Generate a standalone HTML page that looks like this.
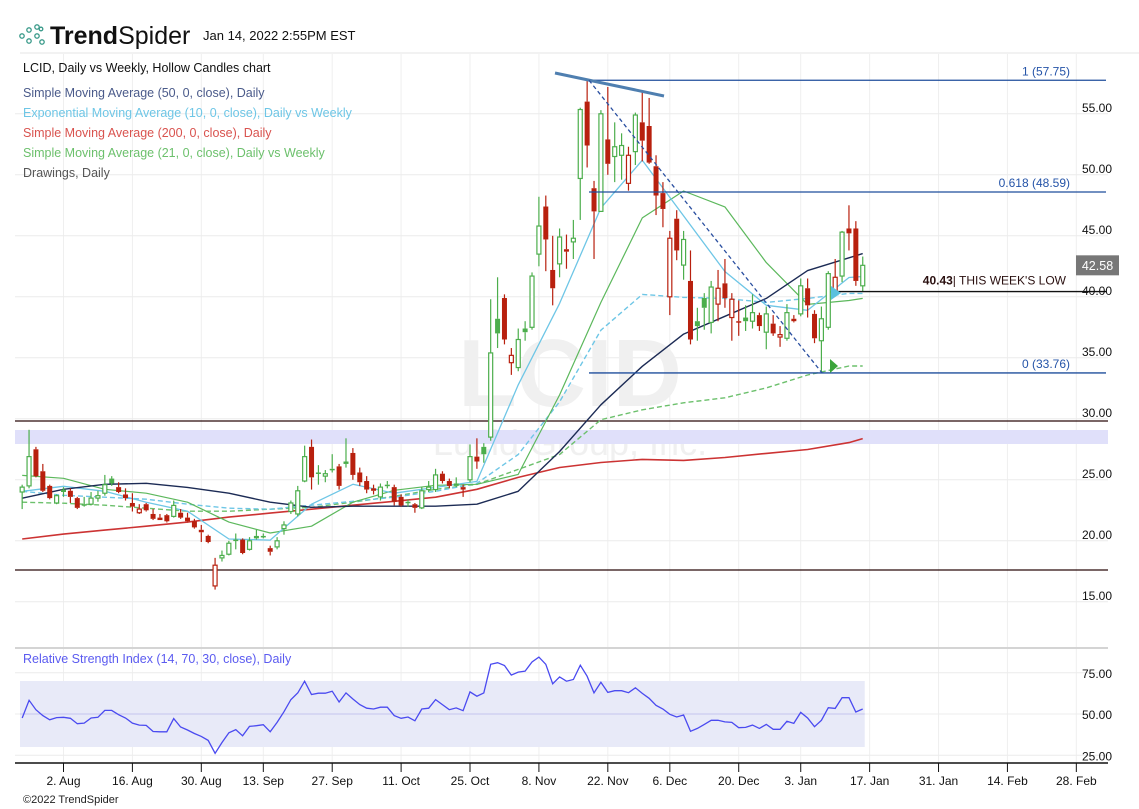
<!DOCTYPE html>
<html><head><meta charset="utf-8"><style>
html,body{margin:0;padding:0;background:#fff;}
svg{display:block;font-family:"Liberation Sans",sans-serif;}
</style></head><body>
<svg id="chart" width="1139" height="809" viewBox="0 0 1139 809" xmlns="http://www.w3.org/2000/svg">
<g>
  <g fill="none" stroke="#3a9a8a" stroke-width="1.3">
    <circle cx="22" cy="36" r="2.2"/><circle cx="29" cy="30" r="2.2"/><circle cx="29" cy="41" r="2.2"/><circle cx="37" cy="27" r="2.2"/><circle cx="37" cy="36" r="2.2"/><circle cx="42" cy="42" r="2.2"/><circle cx="41" cy="29" r="1.8"/>
  </g>
  <text x="50" y="44" font-size="25" fill="#111"><tspan font-weight="bold">Trend</tspan><tspan font-weight="normal">Spider</tspan></text>
  <text x="203" y="40" font-size="13" fill="#111">Jan 14, 2022 2:55PM EST</text>
  <line x1="20" y1="53" x2="1139" y2="53" stroke="#e6e6e6"/>
</g>
<g id="grid"></g>
<g>
  <text x="570" y="406" text-anchor="middle" font-size="96" font-weight="bold" fill="#f0f0f0">LCID</text>
  <text x="570" y="455" text-anchor="middle" font-size="36" fill="#f0f0f0">Lucid Group, Inc.</text>
</g>
<rect x="15" y="430" width="1093" height="14" fill="#e0e0fa"/>
<line x1="15" y1="421" x2="1108" y2="421" stroke="#2a0a0a" stroke-width="1.3"/>
<line x1="15" y1="570" x2="1108" y2="570" stroke="#2a0a0a" stroke-width="1.3"/>
<g id="mas"></g>
<g id="candles"></g>
<g id="drawings"></g>
<g id="rsi"></g>
<g id="axes"></g>
<g font-size="12.5">
  <text x="23" y="72" fill="#111">LCID, Daily vs Weekly, Hollow Candles chart</text>
  <text x="23" y="97" fill="#4a5a8a">Simple Moving Average (50, 0, close), Daily</text>
  <text x="23" y="117" fill="#6ec6e6">Exponential Moving Average (10, 0, close), Daily vs Weekly</text>
  <text x="23" y="137" fill="#d9534f">Simple Moving Average (200, 0, close), Daily</text>
  <text x="23" y="157" fill="#6cc06c">Simple Moving Average (21, 0, close), Daily vs Weekly</text>
  <text x="23" y="177" fill="#555">Drawings, Daily</text>
</g>
<text x="23" y="803" font-size="11" fill="#222">©2022 TrendSpider</text>
</svg>
<script>
const opens=[24.0,24.5,27.5,25.7,24.5,23.1,24.2,24.1,23.5,23.0,23.0,23.5,23.9,25.1,24.4,23.8,23.1,22.3,23.0,22.2,21.9,22.1,22.0,22.3,21.9,21.6,20.9,20.4,16.3,18.6,18.9,20.1,20.1,19.3,20.4,20.4,19.4,19.5,21.0,22.4,22.2,24.9,27.7,25.6,25.3,25.9,26.1,26.5,27.2,25.6,24.9,24.3,23.6,24.6,24.4,23.6,23.2,23.0,22.7,24.2,24.2,25.5,24.9,24.7,24.4,25.0,26.9,27.7,28.5,38.2,39.9,34.6,34.2,37.4,37.5,43.5,47.4,42.2,42.7,43.9,44.5,49.7,56.0,48.9,47.0,52.9,51.5,51.6,49.3,51.9,54.3,54.0,50.7,48.5,40.0,46.4,42.6,41.3,38.0,39.9,37.9,39.4,41.1,38.3,38.0,38.3,38.0,38.5,37.1,37.8,36.7,36.6,38.2,38.6,40.7,38.6,36.4,37.5,40.5,41.7,45.6,45.6,40.9];
const highs=[24.6,29.1,27.7,26.3,24.6,23.8,24.4,24.3,23.6,23.6,24.0,24.1,25.4,25.3,24.8,24.3,23.9,23.0,23.1,22.6,22.2,22.2,23.3,22.6,22.3,21.8,21.3,20.5,18.6,19.2,20.0,20.6,20.2,20.3,20.9,20.6,19.6,20.3,21.6,23.3,24.5,27.8,28.3,26.2,25.8,27.1,26.3,28.4,27.6,26.0,25.3,24.6,24.7,24.9,24.6,23.8,23.4,23.1,24.4,24.9,25.9,25.7,25.1,25.2,24.6,27.9,28.4,28.0,39.8,41.6,40.2,35.8,37.4,38.0,42.0,48.2,48.3,45.0,45.6,45.1,46.3,55.5,57.75,49.5,55.3,57.2,54.3,53.4,52.3,55.1,56.8,56.3,51.6,49.4,45.4,47.1,45.4,43.8,39.1,40.3,41.3,42.2,43.1,40.3,39.7,39.3,40.2,38.7,39.2,38.5,37.6,39.4,38.5,41.5,41.5,38.9,39.2,42.1,43.1,45.4,47.5,46.2,43.3];
const lows=[22.6,24.3,25.2,24.0,23.4,23.0,23.6,23.1,22.6,22.8,22.9,23.2,23.7,24.5,23.9,23.3,22.4,22.2,22.4,21.7,21.7,21.5,21.9,21.8,21.5,21.0,19.9,19.8,16.0,18.3,18.8,19.3,18.9,19.2,20.1,20.2,18.8,19.3,20.5,22.2,22.0,24.8,24.2,24.6,24.8,25.6,24.2,26.0,25.0,24.5,23.9,23.8,23.3,24.3,22.9,22.8,22.8,22.3,22.6,24.0,24.0,24.7,24.3,24.4,23.6,24.8,25.9,26.4,28.2,35.8,36.1,33.6,33.9,36.4,37.3,42.5,42.1,39.3,41.6,42.3,43.1,46.3,50.6,43.1,47.0,50.0,49.4,49.6,48.7,50.8,51.1,50.9,46.7,45.7,38.5,43.0,41.4,36.1,36.4,37.3,37.0,38.0,39.1,36.4,36.8,37.2,37.4,37.2,35.7,36.8,35.9,36.4,37.9,38.4,38.3,36.2,33.76,37.3,40.4,41.2,43.8,40.9,40.43];
const closes=[24.4,26.9,25.3,24.1,23.5,23.7,24.0,23.6,22.7,22.9,23.5,23.7,24.6,24.7,24.0,23.5,22.8,22.6,22.5,21.8,21.7,21.6,22.9,21.9,21.6,21.1,20.7,19.9,18.0,18.8,19.8,20.0,19.0,20.0,20.2,20.3,19.1,20.0,21.3,23.1,24.1,26.9,25.2,25.5,25.5,25.8,24.5,26.3,25.4,24.8,24.2,24.1,24.4,24.5,23.2,22.9,23.1,22.7,24.1,24.4,25.4,24.9,24.5,24.5,24.2,26.9,26.5,27.1,35.4,37.0,36.5,35.2,36.5,37.1,41.7,45.8,44.7,40.7,44.9,43.7,44.8,55.35,52.4,47.0,55.0,50.9,52.3,52.4,51.6,54.9,52.8,51.0,48.3,47.2,44.8,43.8,44.7,36.5,37.6,39.1,40.8,40.7,39.9,39.8,37.9,38.0,38.7,37.6,38.6,37.0,36.9,38.7,38.0,40.9,39.3,36.6,38.2,41.9,41.6,45.3,45.2,41.3,42.58];
// moving averages sampled at candle indices
const maIdx=[0,6,12,18,24,30,36,42,48,54,60,66,72,78,84,90,96,102,108,114,120,122];
const sma50=[23.49,24.22,24.63,24.71,24.38,23.9,23.16,22.75,22.84,22.84,22.84,23.0,24.06,27.32,31.15,34.3,36.94,38.4,39.87,42.15,43.2,43.54];
const ema10=[24.06,24.47,24.06,23.16,22.43,20.15,20.06,23.0,24.63,23.9,24.38,24.87,32.78,39.46,47.29,51.2,46.63,42.07,39.3,38.89,41.58,41.66];
const sma21=[25.36,25.12,24.22,23.9,23.16,21.53,20.64,21.2,23.16,24.14,24.55,24.63,25.44,31.96,39.54,46.47,48.67,47.37,42.8,39.38,39.7,39.87];
const sma200=[20.15,20.55,20.88,21.2,21.53,21.94,22.27,22.59,22.92,23.24,23.57,24.22,25.2,26.01,26.42,26.67,26.59,26.83,27.16,27.48,28.05,28.38];
const sma21w=[23.16,23.08,22.92,22.67,22.43,22.43,22.59,22.75,23.16,23.65,24.22,24.63,25.85,27.07,29.93,30.74,31.31,31.72,32.53,33.59,34.33,34.33];
const ema10w=[24.06,23.73,23.57,23.41,23.0,22.67,22.59,22.92,23.24,23.57,24.06,24.71,27.07,31.39,37.26,40.2,39.95,39.87,39.54,39.87,40.28,40.28];
const rsiVals=[47.6,58.3,52.6,49.0,46.5,47.8,48.0,47.4,44.1,44.5,47.6,48.0,52.2,52.2,49.6,47.6,44.5,43.3,43.1,39.4,39.2,39.2,47.2,42.1,40.3,38.2,36.4,34.0,26.2,32.7,38.6,40.5,36.8,42.5,42.9,43.5,39.2,44.9,51.4,58.7,62.8,69.9,61.8,62.6,62.6,63.8,57.3,62.8,59.1,55.7,53.5,53.0,54.1,54.1,49.0,47.4,48.2,45.9,53.0,53.5,58.7,55.7,52.6,53.7,52.0,63.4,60.8,62.8,80.1,81.1,79.4,73.6,75.4,76.0,81.5,84.5,80.1,68.3,72.5,69.9,70.9,79.6,72.9,62.8,69.2,63.1,64.1,64.1,62.9,65.9,62.5,59.5,55.3,53.0,49.8,48.2,49.4,39.5,41.3,43.7,46.2,46.2,45.2,44.9,41.7,41.9,43.3,41.3,43.7,40.7,40.7,45.6,44.3,51.0,47.6,42.3,46.2,53.8,53.4,59.9,59.9,51.2,53.0];
const priceTicks=[15,20,25,30,35,40,45,50,55];
const rsiTicks=[25,50,75];
const dateLabels=["2. Aug","16. Aug","30. Aug","13. Sep","27. Sep","11. Oct","25. Oct","8. Nov","22. Nov","6. Dec","20. Dec","3. Jan","17. Jan","31. Jan","14. Feb","28. Feb"];
const dateIdx=[0,10,20,29,39,49,59,69,79,88,98,107,117,127,137,147];
const firstIdx=-6;
const fibLevels=[57.75,48.59,33.76];
const fibNames=["1","0.618","0"];
const weekLow=40.43, lastPrice=42.58;

const NS="http://www.w3.org/2000/svg";
const xT=t=>63.5+t*6.89;
const xC=i=>xT(i+firstIdx);
const yP=p=>113.8+(55-p)*12.2;
const yR=v=>714-(v-50)*1.65;
function mk(tag,attrs,parent){const e=document.createElementNS(NS,tag);for(const k in attrs)e.setAttribute(k,attrs[k]);parent.appendChild(e);return e;}
const grid=document.getElementById('grid'),axes=document.getElementById('axes');
dateIdx.forEach((t,k)=>{
  const x=xT(t);
  const gl=mk('line',{x1:x,y1:54,x2:x,y2:763,stroke:'#efefef'},grid);
  
  
  const tk=mk('line',{x1:x,y1:763,x2:x,y2:772,stroke:'#111'},axes);
  
  
  const tl=mk('text',{x:x,y:785,'font-size':12,'text-anchor':'middle',fill:'#111'},axes);
  tl.textContent=dateLabels[k];
  
  
});
priceTicks.forEach(p=>{
  const y=yP(p);
  const gl=mk('line',{x1:15,y1:y,x2:1108,y2:y,stroke:'#ececec'},grid);
  
  
  const tl=mk('text',{x:1082,y:y-2,'font-size':12,fill:'#111'},axes);
  tl.textContent=p.toFixed(2);
  
  
});
const sep=mk('line',{x1:15,y1:648,x2:1108,y2:648,stroke:'#d4d4d4','stroke-width':2},axes);


const xl=mk('line',{x1:15,y1:763,x2:1108,y2:763,stroke:'#111','stroke-width':1.5},axes);


const mas=document.getElementById('mas');
function maLine(vals,color,w,dash,name){
  const d=vals.map((v,k)=>(k?'L':'M')+xC(maIdx[k]).toFixed(1)+' '+yP(v).toFixed(1)).join(' ');
  const p=mk('path',{d:d,fill:'none',stroke:color,'stroke-width':w,'stroke-linejoin':'round'},mas);
  if(dash)p.setAttribute('stroke-dasharray',dash);
  
  
}
maLine(sma200,'#cc3333',1.6,null,'sma200-line');
maLine(sma21w,'#6cc06c',1.4,'5 3','sma21-weekly-line');
maLine(ema10w,'#6ec6e6',1.4,'5 3','ema10-weekly-line');
maLine(sma21,'#5cb85c',1.2,null,'sma21-line');
maLine(ema10,'#6ec6e6',1.3,null,'ema10-line');
maLine(sma50,'#1c2b55',1.4,null,'sma50-line');
const cg=document.getElementById('candles');
closes.forEach((c,i)=>{
  const o=opens[i],x=xC(i);
  const prev=i?closes[i-1]:o;
  const col=c>=prev?'#4cae4c':'#b8200e';
  const hollow=c>o;
  const g=mk('g',{},cg);
  
  
  const top=yP(Math.max(o,c)),bot=yP(Math.min(o,c));
  mk('line',{x1:x,y1:yP(highs[i]),x2:x,y2:top,stroke:col,'stroke-width':1.2},g);
  mk('line',{x1:x,y1:bot,x2:x,y2:yP(lows[i]),stroke:col,'stroke-width':1.2},g);
  if(hollow) mk('rect',{x:x-2,y:top,width:4,height:Math.max(bot-top,1),fill:'#fff',stroke:col,'stroke-width':1.2},g);
  else mk('rect',{x:x-2.5,y:top,width:5,height:Math.max(bot-top,1.5),fill:col},g);
});
const dg=document.getElementById('drawings');
fibLevels.forEach((f,k)=>{
  const y=yP(f);
  const l=mk('line',{x1:589,y1:y,x2:1106,y2:y,stroke:'#1f4e9c','stroke-width':1.3},dg);
  
  
  const t=mk('text',{x:1070,y:y-5,'font-size':12,'text-anchor':'end',fill:'#2554a8'},dg);
  t.textContent=fibNames[k]+' ('+f.toFixed(2)+')';
  
  
});
const tl1=mk('line',{x1:555,y1:73,x2:664,y2:96,stroke:'#4f7fb0','stroke-width':3},dg);


const tl2=mk('line',{x1:589,y1:yP(57.75),x2:822,y2:yP(33.76),stroke:'#2a4fa0','stroke-width':1.3,'stroke-dasharray':'4 3'},dg);


const wl=mk('line',{x1:833,y1:yP(weekLow),x2:1106,y2:yP(weekLow),stroke:'#111','stroke-width':1.3},dg);


const wt=mk('text',{x:1066,y:yP(weekLow)-7,'font-size':12,'text-anchor':'end',fill:'#2a1010'},dg);
wt.innerHTML='<tspan font-weight="bold">'+weekLow.toFixed(2)+'</tspan>| THIS WEEK\'S LOW';


const tri1=mk('polygon',{points:'831,286 841,293 831,300',fill:'#5bc0de'},dg);


const tri2=mk('polygon',{points:'830,359 838,366 830,373',fill:'#3aa53a'},dg);


const tag=mk('rect',{x:1076,y:yP(lastPrice)-10,width:43,height:20,fill:'#777'},dg);


const tagT=mk('text',{x:1097.5,y:yP(lastPrice)+4.5,'font-size':12.5,'text-anchor':'middle',fill:'#fff'},dg);
tagT.textContent=lastPrice.toFixed(2);


const rg=document.getElementById('rsi');
const band=mk('rect',{x:20,y:yR(70),width:xC(closes.length-1)-20+2,height:yR(30)-yR(70),fill:'#e8eaf8'},rg);


const mid=mk('line',{x1:20,y1:yR(50),x2:xC(closes.length-1)+2,y2:yR(50),stroke:'#c4c4ee'},rg);


rsiTicks.forEach(v=>{
  const gl=mk('line',{x1:15,y1:yR(v),x2:1108,y2:yR(v),stroke:'#ececec'},grid);
  
  
  const t=mk('text',{x:1082,y:yR(v)+5,'font-size':12,fill:'#111'},rg);
  t.textContent=v.toFixed(2);
  
  
});
const rl=mk('path',{d:rsiVals.map((v,i)=>(i?'L':'M')+xC(i).toFixed(1)+' '+yR(v).toFixed(1)).join(' '),fill:'none',stroke:'#4a4af0','stroke-width':1.3},rg);


const rt=mk('text',{x:23,y:663,'font-size':12.5,fill:'#5b5bf0'},rg);
rt.textContent='Relative Strength Index (14, 70, 30, close), Daily';


</script>
</body></html>
